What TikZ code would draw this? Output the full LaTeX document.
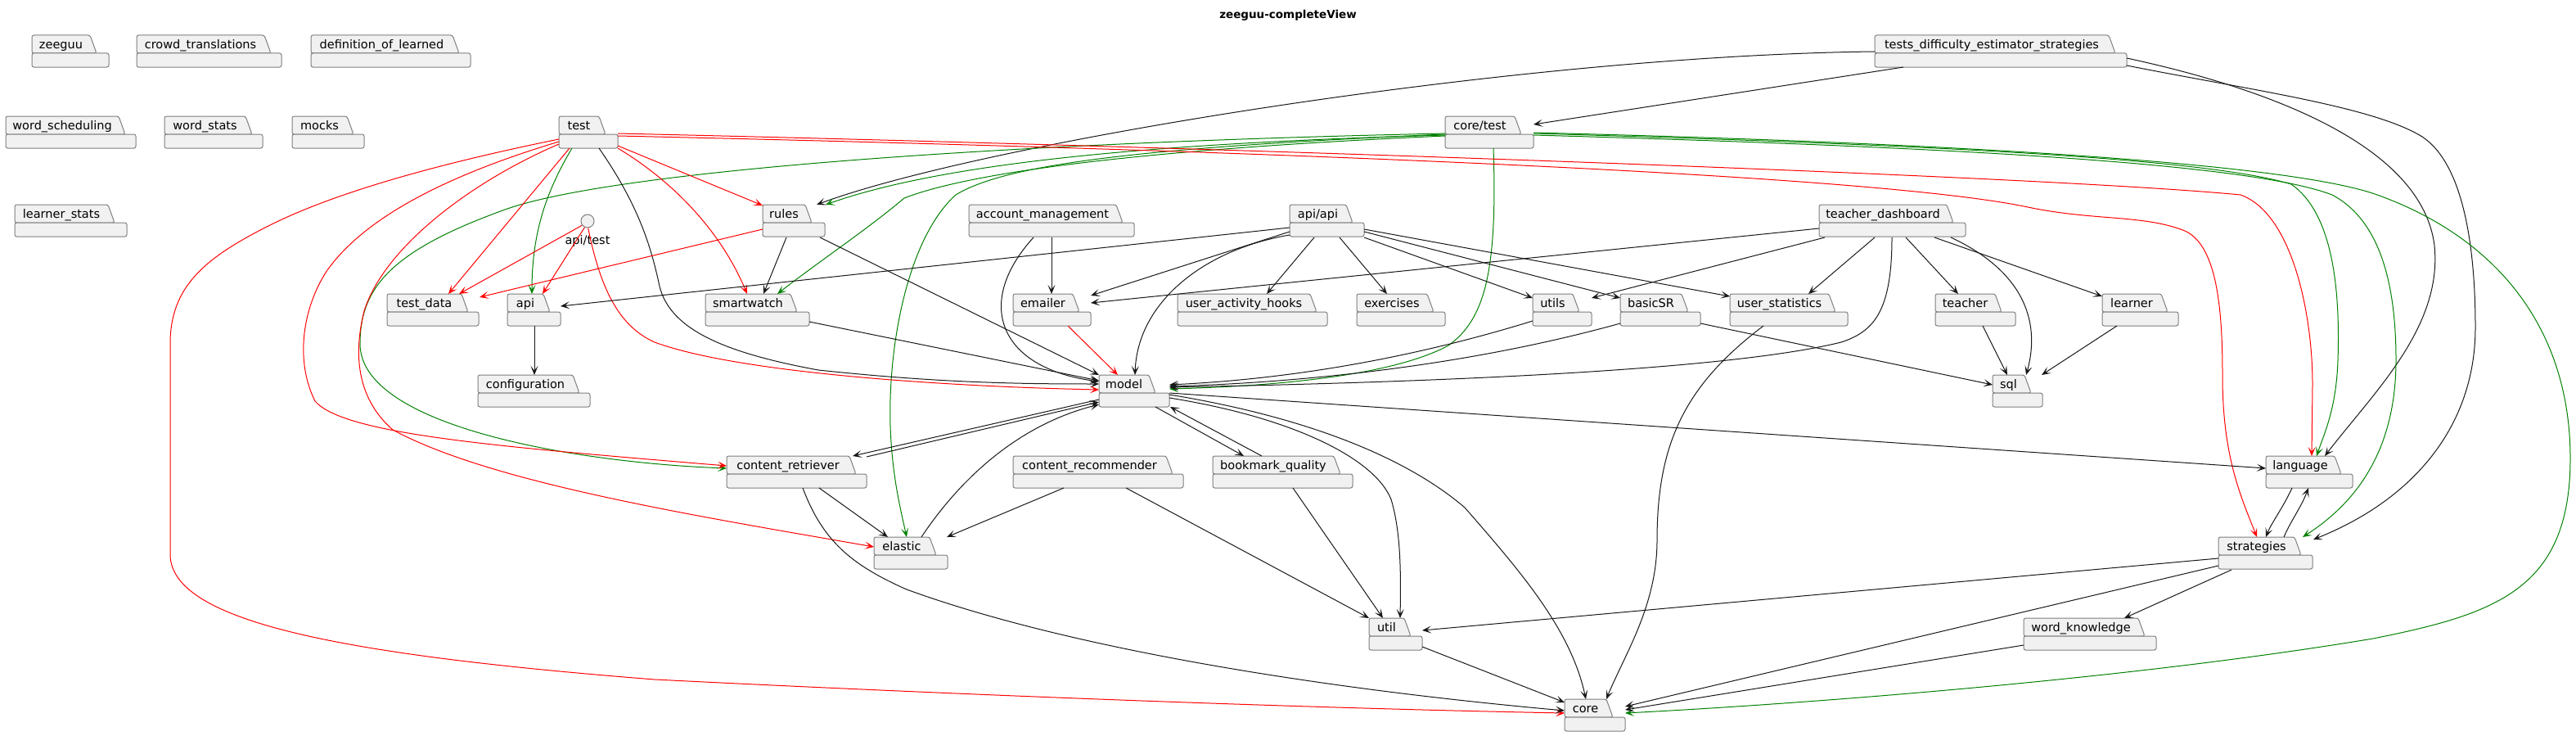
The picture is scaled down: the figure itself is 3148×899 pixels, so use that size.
\documentclass[tikz,border=0pt]{standalone}
\usepackage{fontspec}
\setmainfont{DejaVu Sans}
\usetikzlibrary{calc,arrows.meta}
\definecolor{pkgfill}{HTML}{F1F1F1}
\definecolor{pkgline}{HTML}{7F7F7F}
\definecolor{edgeblk}{HTML}{181818}
\definecolor{edgered}{HTML}{FF0000}
\definecolor{edgegrn}{HTML}{008000}
\tikzset{
  pkgshape/.style={fill=pkgfill, draw=pkgline, line width=1pt, rounded corners=2.5pt},
  pkglabel/.style={font=\fontsize{14.5}{17}\selectfont, inner sep=0pt, text height=10.5pt, text depth=3pt},
  pkgnode/.style={anchor=north west, minimum height=39, inner sep=0pt, outer sep=0pt, draw=none},
  dep/.style={line width=1pt, line join=round, -{Stealth[length=11pt,width=9pt,inset=5.5pt]}},
  blk/.style={dep, draw=edgeblk},
  redl/.style={dep, draw=edgered},
  grn/.style={dep, draw=edgegrn},
}
% name, label, left, top, tab right, body right
\newcommand\pkg[6]{%
  \path[pkgshape] (#3,#4+22) -- (#3,#4) -- (#5+3,#4) -- (#5+11,#4+22) -- cycle;
  \path[pkgshape] (#3,#4+22) rectangle (#6,#4+39);
  \node[pkglabel] (#1-label) at ({(#3+#5)/2+1.5},#4+13) {#2};
  \node[pkgnode, minimum width={#6-#3}] (#1) at (#3,#4) {};
}
\begin{document}
\begin{tikzpicture}[x=1pt,y=-1pt]
\useasboundingbox (0,0) rectangle (3148,899);
\node[font=\bfseries\fontsize{13.5}{16}\selectfont, inner sep=0pt, text height=10pt, text depth=3pt] (title) at (1574,19) {zeeguu-completeView};

\pkg{zeeguu}{zeeguu}{39}{43}{107}{133}
\pkg{crowd}{crowd\_translations}{167}{43}{320}{344}
\pkg{defl}{definition\_of\_learned}{380}{43}{550}{575}
\pkg{tde}{tests\_difficulty\_estimator\_strategies}{2291}{43}{2574}{2599}
\pkg{wsch}{word\_scheduling}{7}{142}{142}{166}
\pkg{wstats}{word\_stats}{201}{142}{297}{321}
\pkg{mocks}{mocks}{357}{142}{421}{445}
\pkg{test}{test}{683}{142}{729}{755}
\pkg{coretest}{core/test}{1766}{142}{1848}{1874}
\pkg{lstats}{learner\_stats}{18}{250}{129}{155}
\pkg{rules}{rules}{932}{250}{981}{1008}
\pkg{acct}{account\_management}{1184}{250}{1361}{1386}
\pkg{apiapi}{api/api}{1576}{250}{1642}{1667}
\pkg{tdash}{teacher\_dashboard}{2223}{250}{2376}{2402}
\pkg{tdata}{test\_data}{473}{359}{561}{585}
\pkg{api}{api}{620}{359}{661}{685}
\pkg{smart}{smartwatch}{862}{359}{963}{989}
\pkg{emailer}{emailer}{1238}{359}{1308}{1333}
\pkg{uah}{user\_activity\_hooks}{1439}{359}{1598}{1622}
\pkg{exer}{exercises}{1658}{359}{1741}{1766}
\pkg{utils}{utils}{1873}{359}{1919}{1945}
\pkg{basicsr}{basicSR}{1980}{359}{2052}{2078}
\pkg{ustat}{user\_statistics}{2114}{359}{2232}{2258}
\pkg{teacher}{teacher}{2365}{359}{2435}{2463}
\pkg{learner}{learner}{2569}{359}{2638}{2662}
\pkg{config}{configuration}{584}{458}{697}{721}
\pkg{model}{model}{1343}{458}{1401}{1429}
\pkg{sql}{sql}{2435}{458}{2471}{2496}
\pkg{cret}{content\_retriever}{888}{557}{1035}{1059}
\pkg{crec}{content\_recommender}{1238}{557}{1422}{1446}
\pkg{bq}{bookmark\_quality}{1482}{557}{1627}{1653}
\pkg{lang}{language}{2769}{557}{2850}{2875}
\pkg{elastic}{elastic}{1068}{656}{1133}{1158}
\pkg{strat}{strategies}{2711}{656}{2801}{2826}
\pkg{util}{util}{1673}{755}{1713}{1738}
\pkg{wk}{word\_knowledge}{2473}{755}{2610}{2635}
\pkg{core}{core}{1912}{854}{1960}{1986}

\node[circle, draw=pkgline, fill=pkgfill, line width=1pt, minimum size=16, inner sep=0pt] (apitest) at (718,270) {};
\node[pkglabel] (apitest-label) at (718,295) {api/test};

% tests_difficulty_estimator_strategies
\draw[blk] ($(tde.north west)+(0,20)$) .. controls (1850,68) and (1200,175) .. ($(rules.north west)+(66,0)$);
\draw[blk] ($(tde.north west)+(35,39)$) -- ($(coretest.north west)+(108,10)$);
\draw[blk] ($(tde.north west)+(308,28)$) .. controls (2780,110) and (2960,180) .. (2975,300) .. controls (2985,400) and (2900,480) .. ($(lang.north west)+(72,0)$);
\draw[blk] ($(tde.north west)+(308,37)$) .. controls (2750,110) and (2900,130) .. (2960,167) .. controls (3010,200) and (3025,300) .. (3025,400) .. controls (3025,520) and (2950,610) .. ($(strat.north west)+(116,3)$);

% core/test
\draw[grn] ($(coretest.north west)+(0,21)$) .. controls (1200,175) and (750,210) .. (620,255) .. controls (480,305) and (440,350) .. (440,420) .. controls (440,520) and (700,565) .. ($(cret.north west)+(0,15)$);
\draw[grn] ($(coretest.north west)+(0,23)$) .. controls (1400,175) and (1150,200) .. ($(rules.north west)+(77,0)$);
\draw[grn] ($(coretest.north west)+(0,24)$) .. controls (1450,180) and (1200,205) .. (1105,242) .. controls (1060,280) and (1000,320) .. ($(smart.north west)+(88,0)$);
\draw[grn] ($(coretest.north west)+(0,22)$) .. controls (1400,180) and (1230,200) .. (1168,238) .. controls (1110,290) and (1085,420) .. (1088,520) .. controls (1090,580) and (1100,620) .. ($(elastic.north west)+(40,0)$);
\draw[grn] ($(coretest.north west)+(59,39)$) .. controls (1830,330) and (1815,390) .. (1770,422) .. controls (1700,460) and (1550,472) .. ($(model.north west)+(86,17)$);
\draw[grn] ($(coretest.north west)+(108,21)$) .. controls (2400,178) and (2700,195) .. (2800,225) .. controls (2850,260) and (2860,350) .. (2857,440) .. controls (2855,500) and (2840,530) .. ($(lang.north west)+(62,0)$);
\draw[grn] ($(coretest.north west)+(108,23)$) .. controls (2400,180) and (2750,200) .. (2850,238) .. controls (2910,270) and (2928,350) .. (2928,440) .. controls (2928,560) and (2870,620) .. ($(strat.north west)+(103,0)$);
\draw[grn] ($(coretest.north west)+(108,20)$) .. controls (2400,175) and (2800,200) .. (2905,238) .. controls (3050,290) and (3141,400) .. (3141,560) .. controls (3141,720) and (3050,750) .. (2900,780) .. controls (2600,830) and (2200,860) .. ($(core.north west)+(74,17)$);

% test
\draw[blk] ($(test.north west)+(49,39)$) .. controls (780,250) and (795,300) .. (805,345) .. controls (815,400) and (880,430) .. (1000,452) .. controls (1150,468) and (1250,469) .. ($(model.north west)+(0,11)$);
\draw[grn] ($(test.north west)+(16,39)$) .. controls (670,230) and (650,280) .. ($(api.north west)+(30,0)$);
\draw[redl] ($(test.north west)+(13,39)$) -- ($(tdata.north west)+(75,0)$);
\draw[redl] ($(test.north west)+(72,36)$) -- ($(rules.north west)+(0,1)$);
\draw[redl] ($(test.north west)+(72,39)$) .. controls (820,220) and (880,280) .. ($(smart.north west)+(51,0)$);
\draw[redl] ($(test.north west)+(0,31)$) .. controls (560,210) and (450,260) .. (400,330) .. controls (370,375) and (360,440) .. (385,490) .. controls (420,530) and (600,545) .. ($(cret.north west)+(0,12)$);
\draw[redl] ($(test.north west)+(0,34)$) .. controls (580,220) and (470,300) .. (445,380) .. controls (430,440) and (440,490) .. (480,525) .. controls (600,590) and (850,630) .. ($(elastic.north west)+(0,12)$);
\draw[redl] ($(test.north west)+(0,28)$) .. controls (560,195) and (420,230) .. (330,275) .. controls (250,315) and (208,350) .. (208,420) -- (208,677) .. controls (208,760) and (420,800) .. (800,830) .. controls (1200,850) and (1600,865) .. ($(core.north west)+(0,17)$);
\draw[redl] ($(test.north west)+(72,21)$) .. controls (1500,180) and (2500,215) .. (2738,238) .. controls (2800,260) and (2826,380) .. (2826,470) -- ($(lang.north west)+(56,0)$);
\draw[redl] ($(test.north west)+(72,24)$) .. controls (1600,185) and (2300,215) .. (2478,253) .. controls (2560,270) and (2620,262) .. (2670,282) .. controls (2710,300) and (2716,380) .. (2716,460) .. controls (2716,560) and (2740,610) .. ($(strat.north west)+(47,0)$);

% api/test
\draw[redl] (apitest.218) -- ($(tdata.north west)+(88,0)$);
\draw[redl] (apitest.245) -- ($(api.north west)+(43,0)$);
\draw[redl] (apitest.275) .. controls (735,360) and (760,400) .. (800,418) .. controls (900,455) and (1150,472) .. ($(model.north west)+(0,18)$);

% rules, smartwatch, account_management, emailer
\draw[blk] ($(rules.north west)+(29,40)$) -- ($(smart.north west)+(71,0)$);
\draw[blk] ($(rules.north west)+(70,40)$) -- (model.north west);
\draw[redl] ($(rules.north west)+(0,30)$) -- ($(tdata.north west)+(113,4)$);
\draw[blk] ($(smart.north west)+(127,34)$) -- ($(model.north west)+(0,7)$);
\draw[blk] ($(acct.north west)+(101,40)$) -- ($(emailer.north west)+(47,0)$);
\draw[blk] ($(acct.north west)+(79,40)$) .. controls (1190,370) and (1220,450) .. ($(model.north west)+(0,8)$);
\draw[redl] ($(emailer.north west)+(67,39)$) -- ($(model.north west)+(23,0)$);

% api/api
\draw[blk] ($(apiapi.north west)+(0,28)$) -- ($(api.north west)+(65,15)$);
\draw[blk] ($(apiapi.north west)+(0,33)$) -- ($(emailer.north west)+(95,2)$);
\draw[blk] ($(apiapi.north west)+(0,37)$) .. controls (1470,305) and (1390,370) .. ($(model.north west)+(44,0)$);
\draw[blk] ($(apiapi.north west)+(30,40)$) -- ($(uah.north west)+(109,0)$);
\draw[blk] ($(apiapi.north west)+(61,40)$) -- ($(exer.north west)+(37,0)$);
\draw[blk] ($(apiapi.north west)+(91,40)$) -- ($(utils.north west)+(0,5)$);
\draw[blk] ($(apiapi.north west)+(91,33)$) -- ($(basicsr.north west)+(0,5)$);
\draw[blk] ($(apiapi.north west)+(91,30)$) -- ($(ustat.north west)+(0,3)$);

% teacher_dashboard
\draw[blk] ($(tdash.north west)+(0,29)$) -- ($(emailer.north west)+(95,11)$);
\draw[blk] ($(tdash.north west)+(7,40)$) -- ($(utils.north west)+(72,5)$);
\draw[blk] ($(tdash.north west)+(68,40)$) -- ($(ustat.north west)+(96,0)$);
\draw[blk] ($(tdash.north west)+(89,40)$) .. controls (2312,380) and (2290,405) .. (2250,418) .. controls (2100,455) and (1700,468) .. ($(model.north west)+(86,15)$);
\draw[blk] ($(tdash.north west)+(106,40)$) -- ($(teacher.north west)+(28,0)$);
\draw[blk] ($(tdash.north west)+(141,40)$) -- ($(learner.north west)+(0,3)$);
\draw[blk] ($(tdash.north west)+(161,40)$) .. controls (2470,330) and (2495,390) .. ($(sql.north west)+(41,0)$);

% fourth row
\draw[blk] ($(utils.north west)+(0,33)$) .. controls (1750,430) and (1600,462) .. ($(model.north west)+(86,12)$);
\draw[blk] ($(basicsr.north west)+(0,36)$) .. controls (1800,445) and (1600,467) .. ($(model.north west)+(86,14)$);
\draw[blk] ($(basicsr.north west)+(98,36)$) -- ($(sql.north west)+(0,12)$);
\draw[blk] ($(ustat.north west)+(41,39)$) .. controls (2060,470) and (2025,540) .. (2025,660) .. controls (2025,740) and (1985,800) .. ($(core.north west)+(51,0)$);
\draw[blk] ($(teacher.north west)+(58,39)$) -- ($(sql.north west)+(18,0)$);
\draw[blk] ($(learner.north west)+(18,39)$) -- ($(sql.north west)+(60,0)$);
\draw[blk] ($(api.north west)+(33,39)$) -- ($(config.north west)+(69,0)$);

% model and below
\draw[blk] ($(model.north west)+(0,30)$) -- ($(cret.north west)+(154,0)$);
\draw[blk] ($(cret.north west)+(171,1)$) -- ($(model.north west)+(0,33)$);
\draw[blk] ($(elastic.north west)+(58,0)$) .. controls (1170,590) and (1240,520) .. ($(model.north west)+(0,36)$);
\draw[blk] ($(cret.north west)+(113,39)$) -- ($(elastic.north west)+(17,0)$);
\draw[blk] ($(cret.north west)+(93,39)$) .. controls (1005,660) and (1040,690) .. (1108,720) .. controls (1300,790) and (1600,840) .. ($(core.north west)+(0,14)$);
\draw[blk] ($(crec.north west)+(62,39)$) -- ($(elastic.north west)+(89,0)$);
\draw[blk] ($(crec.north west)+(138,39)$) -- (util.north west);
\draw[blk] ($(model.north west)+(69,39)$) -- ($(bq.north west)+(38,0)$);
\draw[blk] ($(bq.north west)+(60,0)$) -- ($(model.north west)+(87,39)$);
\draw[blk] ($(bq.north west)+(98,39)$) -- ($(util.north west)+(17,0)$);
\draw[blk] ($(model.north west)+(86,28)$) .. controls (1580,510) and (1680,560) .. (1700,610) .. controls (1712,650) and (1712,700) .. ($(util.north west)+(38,0)$);
\draw[blk] ($(model.north west)+(86,24)$) .. controls (1600,510) and (1720,560) .. (1790,620) .. controls (1860,700) and (1920,770) .. ($(core.north west)+(26,0)$);
\draw[blk] ($(model.north west)+(86,22)$) -- ($(lang.north west)+(0,15)$);
\draw[blk] ($(lang.north west)+(32,39)$) .. controls (2790,620) and (2775,640) .. ($(strat.north west)+(58,0)$);
\draw[blk] ($(strat.north west)+(80,0)$) .. controls (2800,635) and (2812,620) .. ($(lang.north west)+(52,39)$);
\draw[blk] ($(strat.north west)+(0,26)$) -- ($(util.north west)+(65,15)$);
\draw[blk] ($(strat.north west)+(0,35)$) -- ($(core.north west)+(74,9)$);
\draw[blk] ($(strat.north west)+(16,40)$) -- ($(wk.north west)+(123,0)$);
\draw[blk] ($(wk.north west)+(0,33)$) -- ($(core.north west)+(74,13)$);
\draw[blk] ($(util.north west)+(65,35)$) -- ($(core.north west)+(0,4)$);
\end{tikzpicture}
\end{document}
